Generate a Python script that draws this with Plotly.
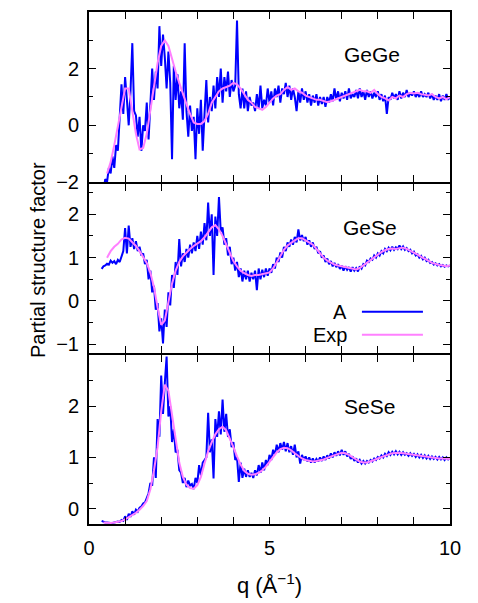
import numpy as np
import plotly.graph_objects as go
from plotly.subplots import make_subplots

# ---------------- data ----------------
panel_names = ["GeGe", "GeSe", "SeSe"]
series_names = ["A", "Exp"]

# simulation A, uniform q grid: start, step
a_step = 0.05
gege_a_q0 = 0.40
gege_a = [
    -2.3, -1.9, -2.0, -1.5, -1.7, -1.1, -1.5, -0.7, -0.9, 0.3,
    1.45, 0.4, 1.7, 0.9, 0.0, 1.2, 2.9, 0.5, 0.35, -0.4,
    0.3, -0.9, 0.0, -0.2, 0.8, -0.5, 0.6, 2.0, 0.9, 1.9,
    1.3, 3.5, 2.1, 3.2, 2.4, 1.3, 2.6, 1.5, -1.2, 2.1,
    0.9, 1.8, 0.6, 1.2, 0.2, 2.9, 0.5, -0.4, 0.7, -0.2,
    0.3, -1.2, 0.6, -0.3, 0.9, -0.9, 0.4, 1.6, 0.1, 1.0,
    0.5, 1.4, 0.6, 1.7, 1.0, 2.0, 0.8, 1.7, 1.2, 1.9,
    1.0, 1.6, 1.2, 1.4, 3.7, 1.1, 0.6, 1.3, 0.6, 1.2,
    0.5, 1.0, 0.7, 0.8, 0.5, 1.1, 0.6, 1.4, 0.6, 0.9,
    0.7, 1.3, 0.8, 1.2, 0.7, 1.3, 1.0, 1.4, 0.8, 1.3,
    1.1, 1.5, 1.0, 1.4, 0.9, 1.3, 1.0, 0.5, 1.2, 0.8,
    1.3, 0.9, 1.2, 0.8, 1.1, 0.7, 1.05, 0.8, 1.1, 0.7,
    1.0, 0.75, 1.0, 0.65, 1.0, 0.8, 1.1, 0.85, 1.3, 0.9,
    1.2, 0.85, 1.15, 0.95, 1.2, 0.9, 1.3, 0.95, 1.1, 1.0,
    1.25, 0.95, 1.3, 1.0, 1.2, 0.9, 1.25, 1.0, 1.2, 0.95,
    1.15, 1.0, 1.2, 0.9, 1.1, 0.85, 1.05, 0.4, 1.0, 0.9,
    1.15, 0.95, 1.1, 0.9, 1.2, 0.95, 1.15, 1.0, 1.25, 1.0,
    1.15, 1.05, 1.2, 1.0, 1.15, 1.0, 1.2, 1.0, 1.1, 1.0,
    1.15, 0.95, 1.1, 0.9, 1.05, 0.9, 1.1, 0.85, 1.05, 0.9,
    1.1, 0.9, 1.0,
]
gese_a_q0 = 0.35
gese_a = [
    0.74, 0.80, 0.82, 0.86, 0.84, 0.93, 0.88, 0.92, 0.85, 0.95,
    0.90, 1.05, 1.15, 1.68, 1.1, 1.74, 1.25, 1.45, 1.2, 1.38,
    1.15, 1.25, 1.05, 1.1, 0.85, 0.95, 0.5, 0.7, 0.2, 0.35,
    -0.2, -0.05, -0.7, -0.4, -0.98, -0.2, -0.6, 0.2, -0.1, 0.6,
    0.3, 0.9, 0.6, 1.43, 0.8, 1.1, 0.9, 1.2, 1.0, 1.3,
    1.1, 1.35, 1.15, 1.5, 1.2, 1.6, 1.3, 1.8, 1.4, 2.27,
    1.5, 2.0, 0.6, 1.95, 1.5, 2.4, 1.6, 1.7, 1.3, 1.45,
    1.05, 1.25, 0.85, 1.0, 0.7, 0.9, 0.55, 0.75, 0.45, 0.7,
    0.5, 0.7, 0.45, 0.65, 0.5, 0.7, 0.25, 0.75, 0.5, 0.72,
    0.55, 0.75, 0.58, 0.75, 0.65, 0.85, 0.75, 1.0, 0.9, 1.12,
    1.0, 1.25, 1.15, 1.35, 1.25, 1.42, 1.3, 1.48, 1.35, 1.65,
    1.4, 1.52, 1.38, 1.48, 1.3, 1.4, 1.25, 1.35, 1.2, 1.25,
    1.1, 1.15, 1.0, 1.05, 0.9, 0.98, 0.85, 0.92, 0.8, 0.88,
    0.78, 0.85, 0.74, 0.82, 0.7, 0.8, 0.72, 0.78, 0.68, 0.78,
    0.7, 0.76, 0.68, 0.8, 0.75, 0.85, 0.82, 0.93, 0.9, 0.98,
    0.95, 1.05, 1.0, 1.1, 1.05, 1.15, 1.1, 1.2, 1.15, 1.23,
    1.17, 1.25, 1.18, 1.24, 1.2, 1.28, 1.2, 1.26, 1.18, 1.22,
    1.15, 1.18, 1.1, 1.14, 1.05, 1.08, 1.0, 1.04, 0.96, 1.0,
    0.92, 0.95, 0.88, 0.9, 0.84, 0.87, 0.82, 0.85, 0.8, 0.83,
    0.79, 0.82, 0.8, 0.82,
]
sese_a_q0 = 0.35
sese_a = [
    -0.24, -0.26, -0.27, -0.27, -0.28, -0.28, -0.28, -0.27, -0.27, -0.25,
    -0.26, -0.22, -0.24, -0.15, -0.22, -0.1, -0.16, -0.05, -0.12, -0.02,
    -0.06, 0.02, 0.04, 0.1, 0.12, 0.22, 0.3, 0.5, 0.45, 1.0,
    0.6, 1.75, 1.4, 2.6, 1.85, 2.45, 2.97, 1.8, 2.0, 1.3,
    1.55, 1.1, 1.15, 0.75, 0.7, 0.5, 0.6, 0.42, 0.55, 0.45,
    0.48, 0.38, 0.6, 0.5, 0.85, 0.65, 0.9, 0.95, 1.0, 1.87,
    1.1, 1.35, 0.59, 1.75, 1.4, 1.9, 1.45, 2.13, 1.5, 1.85,
    1.4, 1.55, 1.2, 1.3, 0.95, 1.0, 0.52, 0.9, 0.6, 0.78,
    0.62, 0.75, 0.62, 0.7, 0.6, 0.75, 0.65, 0.85, 0.7, 0.9,
    0.75, 0.95, 0.85, 1.05, 0.95, 1.15, 1.05, 1.25, 1.1, 1.28,
    1.15, 1.3, 1.12, 1.28, 1.1, 1.22, 1.05, 1.25, 1.0, 1.12,
    0.88, 1.05, 0.95, 1.02, 0.92, 1.0, 0.9, 0.98, 0.9, 0.97,
    0.92, 1.0, 0.93, 1.02, 0.95, 1.04, 0.98, 1.08, 1.0, 1.1,
    1.03, 1.12, 1.04, 1.15, 1.05, 1.12, 1.02, 1.07, 0.97, 1.02,
    0.93, 0.98, 0.9, 0.95, 0.88, 0.93, 0.88, 0.93, 0.9, 0.95,
    0.92, 0.98, 0.95, 1.01, 0.98, 1.04, 1.0, 1.07, 1.03, 1.1,
    1.05, 1.11, 1.06, 1.12, 1.06, 1.11, 1.05, 1.1, 1.05, 1.08,
    1.03, 1.08, 1.03, 1.07, 1.01, 1.06, 1.0, 1.05, 0.99, 1.04,
    0.98, 1.03, 0.97, 1.02, 0.97, 1.01, 0.96, 1.01, 0.96, 1.0,
    0.95, 1.0, 0.96, 0.98,
]

# experiment, uniform q grid
e_step = 0.1
gege_e_q0 = 0.5
gege_e = [
    -1.7, -1.3, -0.7, 0.0, 0.7, 1.3, 1.3, 0.5, -0.3, -0.85,
    -0.8, -0.3, 0.5, 1.3, 2.2, 2.8, 3.0, 2.8, 2.3, 1.9,
    1.5, 1.1, 0.75, 0.4, 0.1, 0.05, 0.05, 0.15, 0.4, 0.8,
    1.0, 1.2, 1.3, 1.35, 1.4, 1.5, 1.45, 1.3, 1.1, 0.9,
    0.8, 0.65, 0.6, 0.55, 0.65, 0.8, 0.95, 1.05, 1.1, 1.25,
    1.35, 1.25, 1.3, 1.2, 1.15, 1.05, 1.0, 0.95, 0.9, 0.9,
    0.85, 0.82, 0.85, 0.9, 0.95, 1.0, 1.05, 1.1, 1.15, 1.2,
    1.25, 1.2, 1.2, 1.15, 1.25, 1.1, 1.0, 0.95, 0.88, 1.0,
    0.95, 1.05, 1.0, 1.1, 1.15, 1.12, 1.15, 1.1, 1.08, 1.05,
    1.1, 1.0, 0.95, 1.0, 0.92, 1.0,
]
gese_e_q0 = 0.5
gese_e = [
    1.0, 1.15, 1.25, 1.32, 1.42, 1.46, 1.44, 1.35, 1.27, 1.15,
    1.02, 0.88, 0.65, 0.32, -0.15, -0.55, -0.45, -0.05, 0.4, 0.7,
    0.9, 1.03, 1.12, 1.2, 1.27, 1.32, 1.38, 1.47, 1.58, 1.7,
    1.75, 1.65, 1.5, 1.3, 1.1, 0.92, 0.8, 0.7, 0.64, 0.6,
    0.58, 0.6, 0.6, 0.62, 0.63, 0.66, 0.75, 0.9, 1.05, 1.18,
    1.28, 1.35, 1.4, 1.45, 1.45, 1.4, 1.35, 1.3, 1.2, 1.1,
    1.0, 0.93, 0.88, 0.84, 0.82, 0.8, 0.78, 0.76, 0.74, 0.73,
    0.76, 0.82, 0.9, 0.96, 1.02, 1.08, 1.13, 1.17, 1.2, 1.21,
    1.2, 1.22, 1.23, 1.2, 1.16, 1.12, 1.07, 1.02, 0.98, 0.93,
    0.88, 0.85, 0.83, 0.82, 0.8, 0.82,
]
sese_e_q0 = 0.4
sese_e = [
    -0.27, -0.28, -0.28, -0.27, -0.26, -0.24, -0.21, -0.17, -0.13, -0.08,
    -0.02, 0.05, 0.15, 0.38, 0.75, 1.2, 1.9, 2.42, 2.3, 1.85,
    1.36, 0.9, 0.62, 0.47, 0.4, 0.39, 0.46, 0.62, 0.88, 1.12,
    1.3, 1.45, 1.55, 1.6, 1.53, 1.38, 1.2, 1.02, 0.86, 0.74,
    0.68, 0.66, 0.67, 0.7, 0.75, 0.82, 0.92, 1.02, 1.1, 1.16,
    1.19, 1.18, 1.14, 1.08, 1.03, 0.98, 0.95, 0.93, 0.92, 0.93,
    0.94, 0.96, 0.99, 1.02, 1.05, 1.07, 1.09, 1.08, 1.05, 1.0,
    0.96, 0.92, 0.9, 0.9, 0.92, 0.95, 0.98, 1.01, 1.04, 1.06,
    1.08, 1.09, 1.09, 1.08, 1.07, 1.06, 1.05, 1.04, 1.02, 1.01,
    1.0, 1.0, 0.99, 0.98, 0.98, 0.97, 0.97,
]

y_ranges = [[-2, 4], [-1.2, 2.7], [-0.3, 3.0]]
y_major = [[-2, 0, 2, 4], [-1, 0, 1, 2], [0, 1, 2]]
y_minor = [[-1, 1, 3], [-0.5, 0.5, 1.5, 2.5], [0.5, 1.5, 2.5]]
x_major = [0, 5, 10]
x_minor = [1, 2, 3, 4, 6, 7, 8, 9]
label_pos = [(7.84, 2.5), (7.78, 1.69), (7.76, 1.99)]

BLUE = "#0000ff"
PINK = "#ff80ff"
FONT = "Liberation Sans"


def grid(q0, step, vals):
    return np.round(q0 + step * np.arange(len(vals)), 4)


a_sets = [(gege_a_q0, gege_a), (gese_a_q0, gese_a), (sese_a_q0, sese_a)]
e_sets = [(gege_e_q0, gege_e), (gese_e_q0, gese_e), (sese_e_q0, sese_e)]

fig = make_subplots(rows=3, cols=1, shared_xaxes=False, vertical_spacing=0)

for i in range(3):
    q0, vals = a_sets[i]
    fig.add_trace(go.Scatter(x=grid(q0, a_step, vals), y=vals, mode="lines",
                             line=dict(color=BLUE, width=2), name=series_names[0],
                             showlegend=False), row=i + 1, col=1)
    q0, vals = e_sets[i]
    fig.add_trace(go.Scatter(x=grid(q0, e_step, vals), y=vals, mode="lines",
                             line=dict(color=PINK, width=2), name=series_names[1],
                             showlegend=False), row=i + 1, col=1)

# figure is drawn inside the page body (8px offset), so size it accordingly
W, H = 470, 595
PH = 512.0
gap = 2.0 / PH
domains = [[0.668, 1.0], [0.334, 0.668 - gap], [0.0, 0.334 - gap]]

for i in range(3):
    r = i + 1
    fig.update_xaxes(row=r, col=1, range=[0, 10], domain=[0, 1], automargin=False,
                     tickmode="array", tickvals=x_major,
                     minor=dict(tickmode="array", tickvals=x_minor, ticks="inside",
                                ticklen=7, tickwidth=1, tickcolor="black", showgrid=False),
                     showticklabels=(i == 2), ticks="inside", ticklen=7, tickwidth=1,
                     tickcolor="black", showline=True, linecolor="black", linewidth=2,
                     mirror="ticks", showgrid=False, zeroline=False, ticklabelstandoff=5,
                     tickfont=dict(family=FONT, size=20, color="black"))
    fig.update_yaxes(row=r, col=1, range=y_ranges[i], domain=domains[i], automargin=False,
                     tickmode="array", tickvals=y_major[i],
                     ticks="inside", ticklen=7, tickwidth=1, tickcolor="black",
                     minor=dict(tickmode="array", tickvals=y_minor[i], ticks="inside",
                                ticklen=4, tickwidth=1, tickcolor="black", showgrid=False),
                     showline=True, linecolor="black", linewidth=2, mirror="ticks",
                     showgrid=False, zeroline=False, ticklabelstandoff=4,
                     tickfont=dict(family=FONT, size=20, color="black"))
    xr = "x" if i == 0 else f"x{r}"
    yr = "y" if i == 0 else f"y{r}"
    fig.add_annotation(x=label_pos[i][0], y=label_pos[i][1], xref=xr, yref=yr,
                       text=panel_names[i], showarrow=False,
                       font=dict(family=FONT, size=21, color="black"))

fig.update_xaxes(row=3, col=1,
                 title=dict(text="q (Å<sup>−1</sup>)", font=dict(family=FONT, size=22, color="black"),
                            standoff=20))

# key (gnuplot style: text left, sample right) in panel 2
key_y = [-0.25, -0.78]
key_cols = [BLUE, PINK]
for k in range(2):
    fig.add_annotation(x=7.2, y=key_y[k], xref="x2", yref="y2", text=series_names[k],
                       showarrow=False, xanchor="right",
                       font=dict(family=FONT, size=20, color="black"))
    fig.add_shape(type="line", xref="x2", yref="y2", x0=7.56, x1=9.25,
                  y0=key_y[k], y1=key_y[k], line=dict(color=key_cols[k], width=2))

fig.add_annotation(x=(25 - 89) / 361.0, y=(516 - 252) / PH, xref="paper", yref="paper",
                   text="Partial structure factor", textangle=-90, showarrow=False,
                   font=dict(family=FONT, size=20, color="black"))

fig.update_layout(width=W, height=H, margin=dict(l=81, r=28, t=4, b=79, autoexpand=False),
                  plot_bgcolor="white", paper_bgcolor="white", showlegend=False)

fig.write_html("out.html")
